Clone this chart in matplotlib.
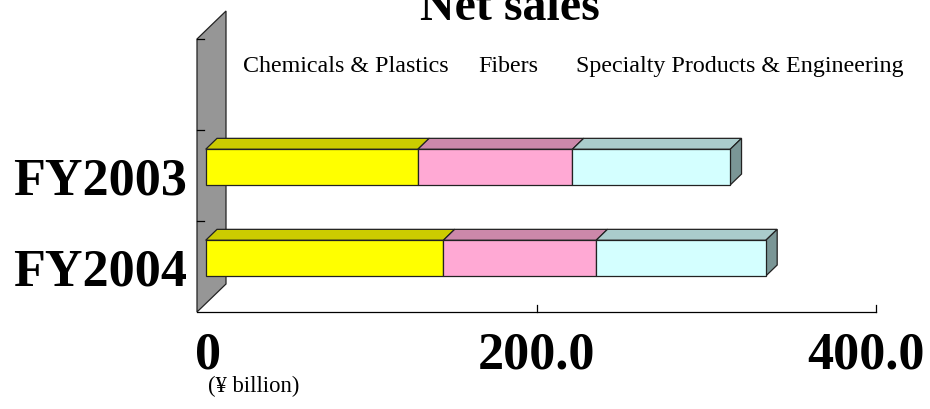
import matplotlib.pyplot as plt
from matplotlib.patches import Polygon
from matplotlib.transforms import offset_copy

years = ["FY2003", "FY2004"]
segments = ["Chemicals & Plastics", "Fibers", "Specialty Products & Engineering"]
chemicals = [125, 140]
fibers = [91, 90]
specialty = [93, 100]
ticks = [0, 200, 400]
tick_labels = ["0", "200.0", "400.0"]

front_colors = ["#FFFF00", "#FFA9D4", "#D4FFFF"]
top_colors = ["#CCCC00", "#CC88AA", "#AACCCC"]
side_colors = ["#999900", "#99667F", "#7A9696"]

plt.rcParams['font.family'] = ['Liberation Serif', 'DejaVu Serif']

W, H = 930, 410
fig = plt.figure(figsize=(W / 100, H / 100), dpi=100)
ax = fig.add_axes([197 / W, 97 / H, 679 / W, 273 / H])
ax.set_xlim(0, 400)
ax.set_ylim(0, 3)
ax.axis('off')

# oblique depth vector (data units) for the fake 3D look
px_x = 400 / 679
px_y = 3 / 273
DX = 29 * px_x
DY = 28 * px_y


def proj(x, y, d):
    return (x + d * DX, y + d * DY)


def face(pts, color, z):
    ax.add_patch(Polygon(pts, closed=True, facecolor=color, edgecolor='#222222',
                         linewidth=0.9, clip_on=False, zorder=z))


# side wall at value 0
face([proj(0, 0, 0), proj(0, 3, 0), proj(0, 3, 1), proj(0, 0, 1)], '#969696', 1)
for yt in [1, 2, 3]:
    ax.plot([0, 7 * px_x], [yt, yt], color='black', lw=0.9, clip_on=False, zorder=2)

# floor front edge with value ticks
ax.plot([0, 400], [0, 0], color='black', lw=0.9, clip_on=False, zorder=2)
for v in ticks[1:]:
    ax.plot([v, v], [0, 7 * px_y], color='black', lw=0.9, clip_on=False, zorder=2)

# stacked bars, depth from 0.3 to 0.69 of the floor
d0, d1 = 0.3, 0.69
half = 0.196
series = [chemicals, fibers, specialty]
centers = [1.5, 0.5]
for i, c in enumerate(centers):
    left = 0
    for j, vals in enumerate(series):
        right = left + vals[i]
        lo, hi = c - half, c + half
        face([proj(left, lo, d0), proj(right, lo, d0), proj(right, hi, d0), proj(left, hi, d0)],
             front_colors[j], 5)
        face([proj(left, hi, d0), proj(right, hi, d0), proj(right, hi, d1), proj(left, hi, d1)],
             top_colors[j], 4)
        if j == len(series) - 1:
            face([proj(right, lo, d0), proj(right, hi, d0), proj(right, hi, d1), proj(right, lo, d1)],
                 side_colors[j], 4)
        left = right

# category labels
for label, c in zip(years, centers):
    tr = offset_copy(ax.transData, fig=fig, x=-7.2, y=-13.3, units='points')
    ax.text(0, c, label, transform=tr, ha='right', va='baseline',
            fontsize=37.5, fontweight='bold')

# value labels (first one nudged right, last one kept inside the figure)
shifts = {0: (8, 'center'), 200: (0, 'center'), 400: (35, 'right')}
for v, lab in zip(ticks, tick_labels):
    dx, ha = shifts[v]
    tr = offset_copy(ax.transData, fig=fig, x=dx, y=-40, units='points')
    ax.text(v, 0, lab, transform=tr, ha=ha, va='baseline',
            fontsize=37.5, fontweight='bold')

fig.text(208 / W, 1 - 392 / H, "(\u00a5 billion)", fontsize=16.3, ha='left', va='baseline')

# legend row
leg_x = [243, 478, 576]
for name, x in zip(segments, leg_x):
    fig.text(x / W, 1 - 72 / H, name, fontsize=17.3, ha='left', va='baseline')

fig.text(510 / W, 1 - 20 / H, "Net sales", fontsize=34.6, fontweight='bold',
         ha='center', va='baseline')

fig.savefig('out.png', dpi=100)
